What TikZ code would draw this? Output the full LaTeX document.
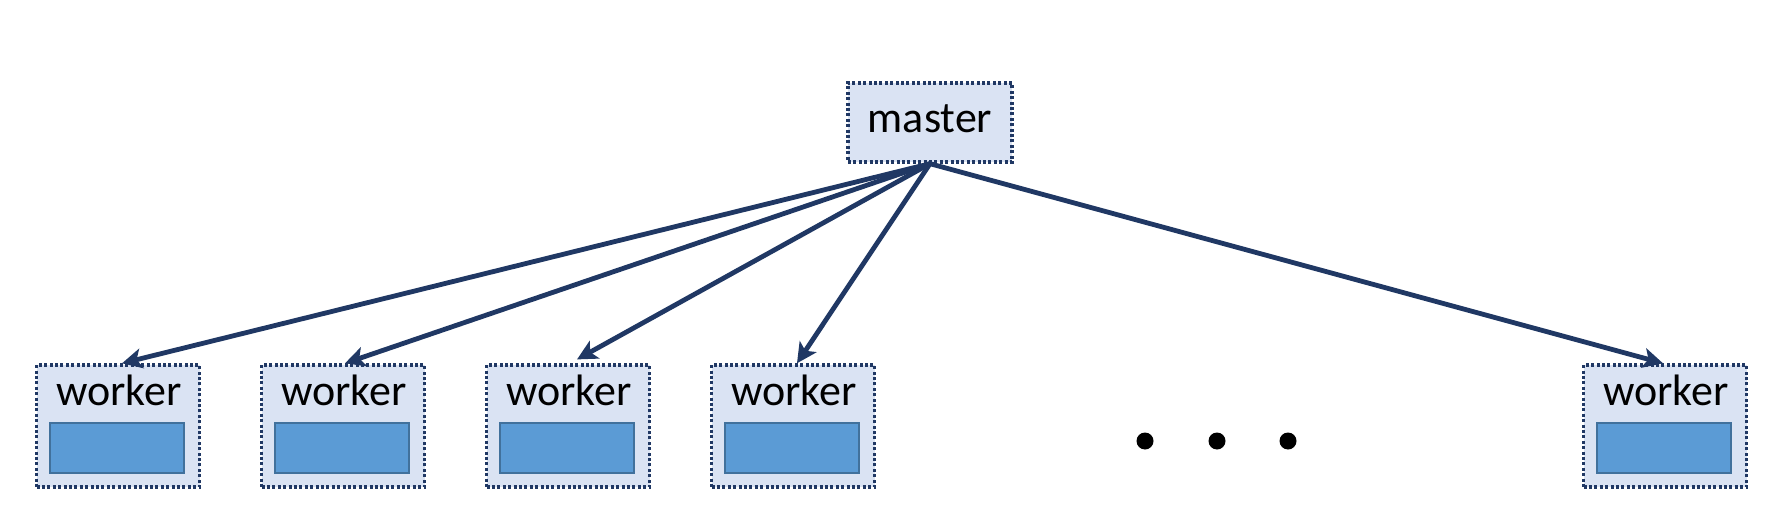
\documentclass[tikz,border=0pt]{standalone}
\usepackage{fontspec}
\setmainfont{Carlito}
\usetikzlibrary{arrows.meta}
\definecolor{navy}{RGB}{32,56,100}
\definecolor{boxfill}{RGB}{218,227,243}
\definecolor{cpufill}{RGB}{91,155,213}
\definecolor{cpuline}{RGB}{65,113,156}
\tikzset{
 framebox/.style={draw=navy, fill=boxfill, line width=1.7pt, dash pattern=on 1.5pt off 1.2pt, inner sep=0pt},
 workerbox/.style={framebox, minimum width=81.5pt, minimum height=61pt},
 masterbox/.style={framebox, minimum width=82pt, minimum height=39.5pt},
 cpubox/.style={draw=cpuline, fill=cpufill, line width=0.7pt, minimum width=67pt, minimum height=25pt, inner sep=0pt},
 txt/.style={font=\fontsize{22}{26}\selectfont, text=black, anchor=base, inner sep=0pt},
 link/.style={draw=navy, line width=2.4pt, -{Stealth[length=10pt,width=10pt,inset=2.5pt]}},
 ellip/.style={circle, fill=black, minimum size=8.5pt, inner sep=0pt}
}
\begin{document}
\begin{tikzpicture}[x=0.5pt,y=-0.5pt]
\useasboundingbox (0,0) rectangle (1772,524);
% master
\node[masterbox] (master) at (930,122.5) {};
\node[txt] (mt) at (930,133) {master};
% workers
\foreach \i/\x in {1/118,2/343,3/568,4/793,5/1665}{
  \node[workerbox] (w\i) at (\x,426) {};
  \node[txt] (t\i) at (\x+1,405) {worker};
  \node[cpubox] (c\i) at (\x-1,448) {};
}
% ellipsis
\node[ellip] (d1) at (1145,441) {};
\node[ellip] (d2) at (1217,441) {};
\node[ellip] (d3) at (1288,441) {};
% connectors
\draw[link] (master.south) -- ([xshift=2pt]w1.north);
\draw[link] (master.south) -- ([xshift=1pt]w2.north);
\draw[link, shorten >=4pt] (master.south) -- ([xshift=1pt]w3.north);
\draw[link] (master.south) -- ([xshift=2pt]w4.north);
\draw[link] (master.south) -- ([xshift=-1pt]w5.north);
\end{tikzpicture}
\end{document}
